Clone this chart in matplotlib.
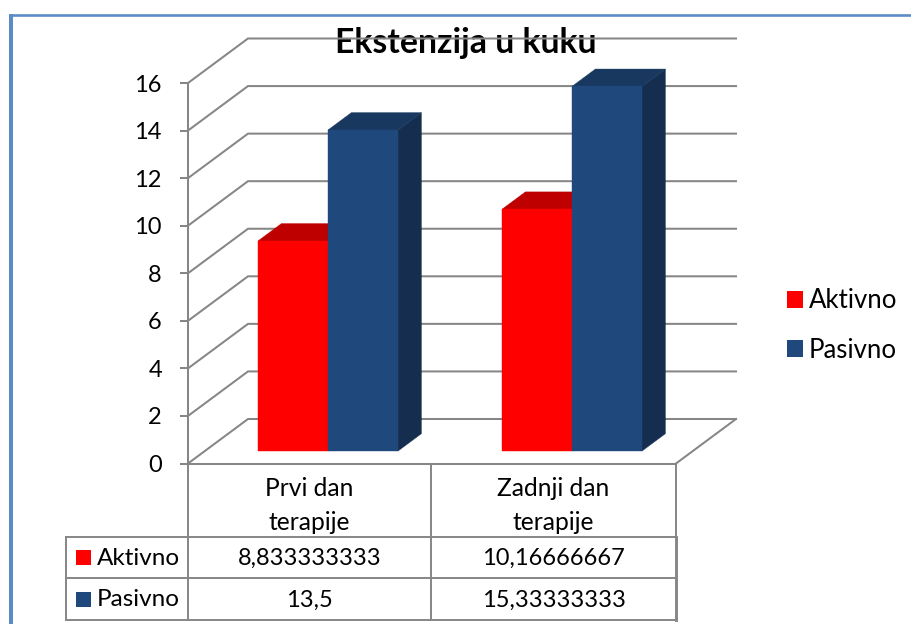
#!/usr/bin/env python3
import matplotlib
matplotlib.use("Agg")
import matplotlib.pyplot as plt
from matplotlib.patches import Patch, Polygon, Rectangle

# ── Data ──────────────────────────────────────────────────────────────────────
categories = ["Prvi dan\nterapije", "Zadnji dan\nterapije"]
series_names = ["Aktivno", "Pasivno"]
aktivno = [8.833333333, 10.16666667]
pasivno = [13.5, 15.33333333]
aktivno_labels = ["8,833333333", "10,16666667"]
pasivno_labels = ["13,5", "15,33333333"]
y_ticks = list(range(0, 17, 2))

# ── Style ─────────────────────────────────────────────────────────────────────
W, H = 912, 624
GRID = "#868686"
FRAME = "#5B8CC6"
FRONT = ["#FF0000", "#1F497D"]
TOP = ["#BE0000", "#18385F"]
SIDE = ["#A50000", "#152E4F"]
FONT = "Lato"
GRID_LW = 1.45

# front plane in pixels, back wall offset in pixels
X0, X1 = 188, 676
Y0, Y16 = 463.5, 83
DEPTH_X_PX, DEPTH_Y_PX = 60, 44.5
UNIT_X = (X1 - X0) / 2
UNIT_Y = (Y0 - Y16) / 16
DX = DEPTH_X_PX / UNIT_X
DY = DEPTH_Y_PX / UNIT_Y

BAR_W = 70 / UNIT_X
BAR_START = 0.218
D_NEAR, D_FAR = 0.28, 0.67

plt.rcParams["font.family"] = [FONT, "DejaVu Sans"]
fig = plt.figure(figsize=(W / 100, H / 100), dpi=100, facecolor="white")

# overlay in pixel coordinates for frame and table
lay = fig.add_axes([0, 0, 1, 1], zorder=0)
lay.set_xlim(0, W)
lay.set_ylim(H, 0)
lay.axis("off")

ax = fig.add_axes([X0 / W, 1 - Y0 / H, (X1 - X0) / W, (Y0 - Y16) / H], zorder=1)
ax.patch.set_alpha(0)
ax.set_xlim(0, 2)
ax.set_ylim(0, 16)


def project(x, v, d):
    return x + d * DX, v + d * DY


# ── Walls and floor ───────────────────────────────────────────────────────────
for v in y_ticks:
    bx, by = project(0, v, 1)
    ex, ey = project(2, v, 1)
    ax.plot([0, bx, ex], [v, by, ey], color=GRID, lw=GRID_LW, clip_on=False, zorder=1,
            solid_joinstyle="miter")
ax.plot([project(2, 0, 1)[0], 2], [project(2, 0, 1)[1], 0], color=GRID, lw=GRID_LW,
        clip_on=False, zorder=1)


# ── Bars ──────────────────────────────────────────────────────────────────────
def bar3d(x, v, i):
    x2 = x + BAR_W
    front = [project(x, 0, D_NEAR), project(x2, 0, D_NEAR),
             project(x2, v, D_NEAR), project(x, v, D_NEAR)]
    side = [project(x2, 0, D_NEAR), project(x2, 0, D_FAR),
            project(x2, v, D_FAR), project(x2, v, D_NEAR)]
    top = [project(x, v, D_NEAR), project(x2, v, D_NEAR),
           project(x2, v, D_FAR), project(x, v, D_FAR)]
    for pts, col in ((side, SIDE[i]), (top, TOP[i]), (front, FRONT[i])):
        ax.add_patch(Polygon(pts, closed=True, facecolor=col, edgecolor=col, lw=0.3,
                             clip_on=False, zorder=3 + i))


for c in range(len(categories)):
    bar3d(c + BAR_START, aktivno[c], 0)
    bar3d(c + BAR_START + BAR_W, pasivno[c], 1)

# ── Axes ──────────────────────────────────────────────────────────────────────
ax.set_yticks(y_ticks)
ax.set_xticks([])
ax.tick_params(axis="y", length=5.8, width=GRID_LW, color=GRID, pad=13, labelsize=17,
               labelcolor="black")
for name in ("top", "right"):
    ax.spines[name].set_visible(False)
for name in ("left", "bottom"):
    ax.spines[name].set_color(GRID)
    ax.spines[name].set_linewidth(GRID_LW)

# ── Frame ─────────────────────────────────────────────────────────────────────
lay.plot([11, 11], [14, H], color=FRAME, lw=2.9, solid_capstyle="butt")
lay.plot([9, W], [15.3, 15.3], color=FRAME, lw=1.9, solid_capstyle="butt")

# ── Table ─────────────────────────────────────────────────────────────────────
col_x = [66, 188, 431, 676]
row_y = [463.5, 537, 578, 620]
tkw = dict(color=GRID, lw=1.4, solid_capstyle="projecting")
for y in row_y[1:]:
    lay.plot([col_x[0], col_x[3]], [y, y], **tkw)
lay.plot([col_x[0], col_x[0]], [row_y[1], row_y[3]], **tkw)
lay.plot([col_x[1], col_x[1]], [row_y[0], row_y[3]], **tkw)
lay.plot([col_x[2], col_x[2]], [row_y[0], row_y[3]], **tkw)
lay.plot([col_x[3], col_x[3]], [row_y[0], row_y[1]], **tkw)
lay.plot([col_x[3], col_x[3]], [row_y[1], row_y[3]], color=GRID, lw=2.1)

cell_size = 17
for c, label in enumerate(categories):
    cx = (col_x[c + 1] + col_x[c + 2]) / 2
    first, second = label.split("\n")
    lay.text(cx, 489, first, ha="center", va="center", fontsize=17.7)
    lay.text(cx, 522, second, ha="center", va="center", fontsize=17.7)

rows = [aktivno_labels, pasivno_labels]
for r, name in enumerate(series_names):
    cy = (row_y[r + 1] + row_y[r + 2]) / 2
    lay.add_patch(Rectangle((76, cy - 7.5), 15, 15, facecolor=FRONT[r], edgecolor="none"))
    lay.text(97, cy + 1, name, ha="left", va="center", fontsize=17.5)
    for c, txt in enumerate(rows[r]):
        cx = (col_x[c + 1] + col_x[c + 2]) / 2
        lay.text(cx, cy + 1, txt, ha="center", va="center", fontsize=cell_size)

# ── Title and legend ──────────────────────────────────────────────────────────
lay.text(466, 43, "Ekstenzija u kuku", ha="center", va="center", fontsize=24.3,
         fontweight="bold", zorder=6)

handles = [Patch(facecolor=FRONT[i], edgecolor="none", label=series_names[i]) for i in range(2)]
fig.legend(handles=handles, loc="center left", bbox_to_anchor=(787 / W, 1 - 325.5 / H),
           frameon=False, fontsize=18.5, handlelength=0.62, handleheight=0.62,
           handletextpad=0.23, labelspacing=0.94, borderpad=0, borderaxespad=0)

fig.savefig("out.png", dpi=100)
